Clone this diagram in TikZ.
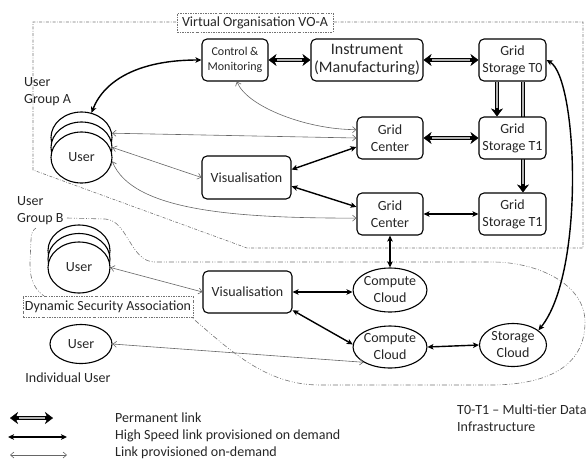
\documentclass[tikz,border=0pt]{standalone}
\usepackage{fontspec}
\setmainfont{Carlito}
\usetikzlibrary{arrows.meta,shapes.geometric}
\pgfdeclarelayer{bg}
\pgfsetlayers{bg,main}
\tikzset{
  PT/.tip={Stealth[length=8pt,width=12pt,inset=2.5pt,line width=0.4pt]},
  HT/.tip={Stealth[length=6pt,width=5.5pt,inset=1.5pt]},
  TT/.tip={Straight Barb[length=3.5pt,width=6pt]},
}
\begin{document}
\begin{tikzpicture}[x=1pt,y=-1pt,
  every node/.style={font=\fontsize{14}{17}\selectfont, text=black!85},
  box/.style={draw, line width=1.1pt, rounded corners=5pt, minimum width=66pt,
     minimum height=42pt, align=center, inner sep=1pt, fill=white},
  ell/.style={draw, ellipse, line width=1.1pt, fill=white, inner sep=0pt, align=center},
  permtwo/.style={line width=4pt, PT-PT,
     postaction={draw=gray!60, line width=1.8pt, arrows=-, shorten <=8.5pt, shorten >=8.5pt}},
  permone/.style={line width=4pt, -PT,
     postaction={draw=gray!60, line width=1.8pt, arrows=-, shorten <=0.6pt, shorten >=8.5pt}},
  hs/.style={line width=1.4pt},
  thin/.style={draw=black!60, line width=0.6pt},
  bnd/.style={draw=black!55, line width=0.6pt, dash pattern=on 3pt off 1.5pt on 0.7pt off 1.5pt},
  grp/.style={draw=black!55, line width=0.6pt, dash pattern=on 5pt off 2pt on 0.8pt off 1.5pt on 0.8pt off 2pt},
  lbl/.style={draw=black!55, line width=0.6pt, dash pattern=on 2pt off 1.2pt on 0.7pt off 1.2pt, fill=white, inner sep=1.5pt},
  txt/.style={inner sep=0pt, align=left}
]
\useasboundingbox (0,0) rectangle (587,459);

% nodes
\node[box, font=\fontsize{12}{15}\selectfont] (cm) at (235,60) {Control \&\\Monitoring};
\node[box, minimum width=112pt, font=\fontsize{16}{18}\selectfont] (inst) at (367,60) {Instrument\\(Manufacturing)};
\node[box, minimum width=67pt] (t0) at (512.5,60) {Grid\\Storage T0};
\node[box] (gc1) at (390,138) {Grid\\Center};
\node[box, minimum width=67pt] (t1a) at (512.5,138) {Grid\\Storage T1};
\node[box] (gc2) at (390,214) {Grid\\Center};
\node[box, minimum width=67pt] (t1b) at (512.5,214) {Grid\\Storage T1};
\node[box, minimum width=89pt, minimum height=43pt] (vis1) at (246.5,177.5) {Visualisation};
\node[box, minimum width=89pt] (vis2) at (247.5,292) {Visualisation};
\node[ell, minimum width=66pt, minimum height=44pt] (cc1) at (390,290) {Compute\\Cloud};
\node[ell, minimum width=66pt, minimum height=42pt] (cc2) at (390,347) {Compute\\Cloud};
\node[ell, minimum width=67pt, minimum height=43pt] (sc) at (513,345) {Storage\\Cloud};

\node[ell, minimum width=61pt, minimum height=51pt] (uA3) at (81.5,137.5) {};
\node[ell, minimum width=61pt, minimum height=51pt] (uA2) at (81.5,147.5) {};
\node[ell, minimum width=61pt, minimum height=51pt] (uA1) at (81.5,157.5) {User};
\node[ell, minimum width=62pt, minimum height=51pt] (uB3) at (79,250.5) {};
\node[ell, minimum width=62pt, minimum height=51pt] (uB2) at (79,259) {};
\node[ell, minimum width=62pt, minimum height=51pt] (uB1) at (79,267.5) {User};
\node[ell, minimum width=62pt, minimum height=39pt] (ind) at (81,344) {User};

\node[txt, anchor=west] (ga) at (24,91.5) {User\\Group A};
\node[txt, anchor=west] (gb) at (17,210.5) {User\\Group B};
\node[txt] (indl) at (68,378) {Individual User};

\node[lbl, minimum width=156pt, minimum height=19pt] (vo) at (255,22.5) {Virtual Organisation VO-A};
\node[lbl, minimum width=170pt, minimum height=21pt] (dsa) at (108,306.5) {Dynamic Security Association};

\node[txt, anchor=west] (lg1) at (115,418) {Permanent link};
\node[txt, anchor=west] (lg2) at (115,436) {High Speed link provisioned on demand};
\node[txt, anchor=west] (lg3) at (115,453) {Link provisioned on-demand};
\node[txt, anchor=west] (tt) at (457,418.5) {T0-T1 -- Multi-tier Data\\Infrastructure};

\coordinate (l1a) at (10,418); \coordinate (l1b) at (53,418);
\coordinate (l2a) at (8,437);  \coordinate (l2b) at (67,437);
\coordinate (l3a) at (10,455); \coordinate (l3b) at (67,455);

% background: boundaries and hidden link
\begin{pgfonlayer}{bg}
\draw[bnd] (33,170) -- (33,22) -- (583,22) -- (583,248) -- (247,248) -- cycle;
\draw[grp] (67,218) -- (105,219) .. controls (128,220) and (130,262) .. (155,262)
  -- (495,262) .. controls (540,263) and (585,285) .. (585,322)
  .. controls (585,368) and (545,385) .. (490,385) -- (320,385)
  .. controls (265,385) and (230,350) .. (190,316) -- (50,300)
  .. controls (33,290) and (30,280) .. (30,262) -- (31,240)
  .. controls (31,233) and (33,230) .. (36,228);
\draw[permone] ([xshift=10.5pt]t0.south) -- ([xshift=10.5pt]t1b.north);
\end{pgfonlayer}

% permanent links
\draw[permtwo] (cm.east) -- (inst.west);
\draw[permtwo] (inst.east) -- (t0.west);
\draw[permone] ([xshift=-15.5pt]t0.south) -- ([xshift=-15.5pt]t1a.north);
\draw[permtwo] (gc1.east) -- (t1a.west);

% high speed links
\draw[hs, HT-HT] (cm.west) .. controls +(-62,0) and +(13,-33) .. (uA3.68);
\draw[hs, HT-HT] (vis1.10) -- (gc1.195);
\draw[hs, HT-HT] (vis1.-11) -- (gc2.168);
\draw[hs, HT-HT] (gc2.east) -- (t1b.west);
\draw[hs, HT-HT] (t0.east) .. controls +(31,18) and +(47,-58) .. (sc.30);
\draw[hs, HT-HT] (gc2.south) -- (cc1.north);
\draw[hs, HT-HT] (vis2.east) -- (cc1.west |- vis2.east);
\draw[hs, HT-HT] (vis2.-22) -- (cc2.176);
\draw[hs, HT-HT] (cc2.east) -- (sc.west);

% on-demand links
\draw[thin, TT-TT] (cm.-85) .. controls +(10,25) and +(-50,0) .. (gc1.166);
\draw[thin, TT-TT] (uA3.8) -- (gc1.west);
\draw[thin, TT-TT] (uA2.0) -- (vis1.west);
\draw[thin, TT-TT] (uA1.-7) .. controls +(20,50) and +(-120,0) .. (gc2.187);
\draw[thin, TT-TT] (uB1.0) -- (vis2.west);
\draw[thin, TT-TT] (ind.0) -- (cc2.210);

% legend
\draw[permtwo] (l1a) -- (l1b);
\draw[hs, HT-HT] (l2a) -- (l2b);
\draw[thin, TT-TT] (l3a) -- (l3b);
\end{tikzpicture}
\end{document}
